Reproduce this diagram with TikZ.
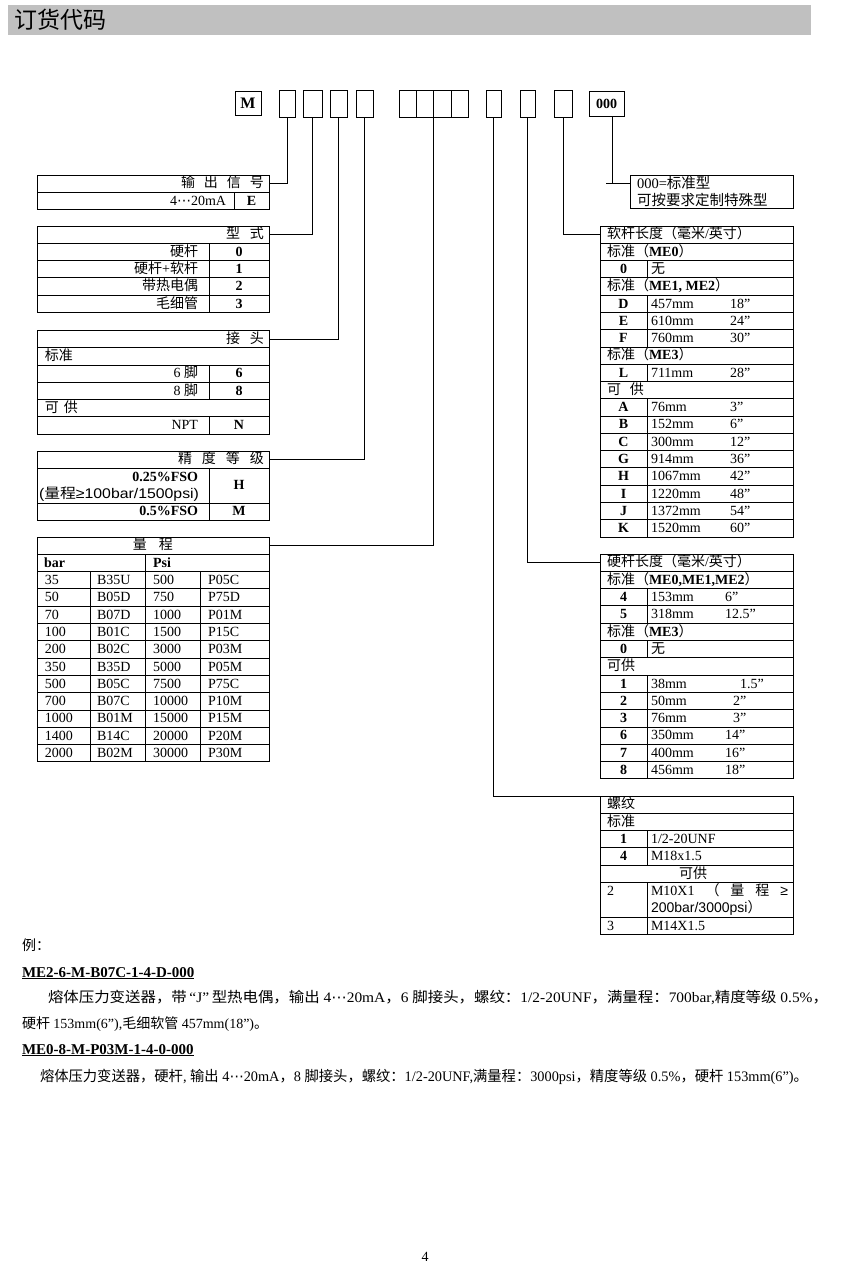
\documentclass[tikz,border=0pt]{standalone}
\usepackage{fontspec}
\usepackage{graphicx}
\setmainfont{Liberation Serif}
\setsansfont{Liberation Sans}
\newfontfamily\cjk{Noto Sans CJK SC}
\newfontfamily\symf{DejaVu Sans}
\definecolor{cc0c0c0}{RGB}{192,192,192}
\newcommand\tbfont{\fontsize{14}{16}\selectfont}

% switch to the CJK family for Chinese characters
\XeTeXinterchartokenstate=1
\chardef\cjkcls=7
\makeatletter
\def\cjkrange#1#2{\count@=#1\relax
  \loop\XeTeXcharclass\count@=\cjkcls\relax
  \ifnum\count@<#2\relax\advance\count@\@ne\repeat}
\cjkrange{"4E00}{"9FFF}
\cjkrange{"3000}{"303F}
\cjkrange{"FF00}{"FF60}
\XeTeXcharclass"201C=0
\XeTeXcharclass"201D=0
\def\latfam{\rmdefault}
\XeTeXinterchartoks 0 \cjkcls = {\edef\latfam{\f@family}\cjk}
\XeTeXinterchartoks 4095 \cjkcls = {\edef\latfam{\f@family}\cjk}
\XeTeXinterchartoks \cjkcls 0 = {\fontfamily{\latfam}\selectfont}
\XeTeXinterchartoks \cjkcls 4095 = {\fontfamily{\latfam}\selectfont}
\makeatother

\begin{document}
\begin{tikzpicture}[x=1pt, y=-1pt, inner sep=0pt, outer sep=0pt, line width=0.9pt,
  txt/.style={font=\tbfont, text height=9.5pt, text depth=1pt},
  codebox/.style={draw, anchor=north west, minimum height=27pt},
  head/.style={draw, anchor=north west, minimum height=17.3pt, font=\tbfont, text height=9.5pt, text depth=1pt}]
  \fill[white] (0,0) rectangle (850,1270);
  \useasboundingbox (0,0) rectangle (850,1270);

  % title bar
  \node[fill=cc0c0c0, anchor=north west, minimum width=803pt, minimum height=30pt, text width=789pt, inner xsep=7pt, align=left, font=\fontsize{23}{26}\selectfont] (title) at (8,5) {订货代码};

  % code boxes
  \node[codebox, minimum width=26pt, minimum height=24pt, font=\bfseries\fontsize{16}{18}\selectfont] (cM) at (235,91) {M};
  \node[codebox, minimum width=16pt] (c1) at (279,90) {};
  \node[codebox, minimum width=19pt] (c2) at (303,90) {};
  \node[codebox, minimum width=17pt] (c3) at (330,90) {};
  \node[codebox, minimum width=17pt] (c4) at (356,90) {};
  \node[codebox, minimum width=69pt] (c5) at (399,90) {};
  \foreach \x in {416,433.5,451} \draw (\x,90) -- (\x,117);
  \node[codebox, minimum width=15pt] (c6) at (486,90) {};
  \node[codebox, minimum width=15pt] (c7) at (520,90) {};
  \node[codebox, minimum width=18pt] (c8) at (554,90) {};
  \node[codebox, minimum width=35pt, minimum height=25pt, font=\bfseries\fontsize{14}{16}\selectfont] (c9) at (589,91) {000};

  % output signal
  \node[head, minimum width=232pt, text width=222pt, inner xsep=5pt, align=right] (sig) at (37,175) {输\hspace{9pt}出\hspace{9pt}信\hspace{9pt}号};
  \draw (37,192.3) rectangle (269,209.6) (234,192.3) -- (234,209.6);
  \node[txt, anchor=east] (sig-a) at (226,201) {4{\symf ⋯}20mA};
  \node[txt, font=\tbfont\bfseries] (sig-b) at (251.5,201) {E};

  % type
  \node[head, minimum width=232pt, text width=222pt, inner xsep=5pt, align=right] (typ) at (37,226) {型\hspace{10pt}式};
  \foreach \k in {1,...,4} \draw (37,{226+17.3*\k}) rectangle (269,{226+17.3*(\k+1)});
  \draw (209,243.3) -- (209,312.5);
  \foreach \lbl/\cd [count=\k] in {硬杆/0,硬杆+软杆/1,带热电偶/2,毛细管/3} {
    \node[txt, anchor=east] (typ-\k) at (198,{226+17.3*\k+8.65}) {\lbl};
    \node[txt, font=\tbfont\bfseries] (typ-c\k) at (239,{226+17.3*\k+8.65}) {\cd};
  }

  % connector
  \node[head, minimum width=232pt, text width=222pt, inner xsep=5pt, align=right] (con) at (37,330.4) {接\hspace{10pt}头};
  \foreach \k in {1,...,5} \draw (37,{330.4+17.3*\k}) rectangle (269,{330.4+17.3*(\k+1)});
  \draw (209,365) -- (209,399.6) (209,416.9) -- (209,434.2);
  \node[txt, anchor=west] (con-1) at (45,356.35) {标准};
  \node[txt, anchor=east] (con-2) at (198,373.65) {6 脚};
  \node[txt, font=\tbfont\bfseries] (con-c2) at (239,373.65) {6};
  \node[txt, anchor=east] (con-3) at (198,390.95) {8 脚};
  \node[txt, font=\tbfont\bfseries] (con-c3) at (239,390.95) {8};
  \node[txt, anchor=west] (con-4) at (45,408.25) {可\hspace{5pt}供};
  \node[txt, anchor=east] (con-5) at (198,425.55) {NPT};
  \node[txt, font=\tbfont\bfseries] (con-c5) at (239,425.55) {N};

  % accuracy
  \node[head, minimum width=232pt, text width=222pt, inner xsep=5pt, align=right] (acc) at (37,451) {精\hspace{10pt}度\hspace{10pt}等\hspace{10pt}级};
  \draw (37,468.3) rectangle (269,503) (37,503) rectangle (269,520.3) (209,468.3) -- (209,520.3);
  \node[txt, anchor=east, font=\tbfont\bfseries] (acc-1) at (198,477.5) {0.25\%FSO};
  \node[txt, anchor=east, font=\tbfont\sffamily] (acc-2) at (199,494.5) {\resizebox{160pt}{\height}{(量程≥100bar/1500psi)}};
  \node[txt, font=\tbfont\bfseries] (acc-c1) at (239,485.6) {H};
  \node[txt, anchor=east, font=\tbfont\bfseries] (acc-3) at (198,511.6) {0.5\%FSO};
  \node[txt, font=\tbfont\bfseries] (acc-c3) at (239,511.6) {M};

  % range
  \node[head, minimum width=232pt, text width=232pt, align=center] (rng) at (37,537) {量\hspace{12pt}程};
  \draw (37,554.3) rectangle (269,571.6) (145,554.3) -- (145,571.6);
  \node[txt, anchor=west, font=\tbfont\bfseries] (rng-bar) at (44,563) {bar};
  \node[txt, anchor=west, font=\tbfont\bfseries] (rng-psi) at (153,563) {Psi};
  \foreach \k in {0,...,10} \draw (37,{571.6+17.3*\k}) rectangle (269,{571.6+17.3*(\k+1)});
  \foreach \x in {90,145,200} \draw (\x,571.6) -- (\x,761.9);
  \foreach \va/\vb/\vc/\vd [count=\k from 0] in {35/B35U/500/P05C,50/B05D/750/P75D,70/B07D/1000/P01M,100/B01C/1500/P15C,200/B02C/3000/P03M,350/B35D/5000/P05M,500/B05C/7500/P75C,700/B07C/10000/P10M,1000/B01M/15000/P15M,1400/B14C/20000/P20M,2000/B02M/30000/P30M} {
    \node[txt, anchor=west] (rng-a\k) at (45,{571.6+17.3*\k+8.65}) {\va};
    \node[txt, anchor=west] (rng-b\k) at (97,{571.6+17.3*\k+8.65}) {\vb};
    \node[txt, anchor=west] (rng-c\k) at (153,{571.6+17.3*\k+8.65}) {\vc};
    \node[txt, anchor=west] (rng-d\k) at (208,{571.6+17.3*\k+8.65}) {\vd};
  }

  % options
  \node[draw, anchor=north west, minimum width=163pt, minimum height=33pt, text width=149pt, inner xsep=7pt, align=left, font=\fontsize{14.5}{16.5}\selectfont] (opt) at (630,175) {000=标准型\\可按要求定制特殊型};

  % soft tube length
  \node[head, minimum width=193pt, text width=179pt, inner xsep=7pt, align=left] (sof) at (600,226) {软杆长度（毫米/英寸）};
  \foreach \k in {1,...,17} \draw (600,{226+17.28*\k}) rectangle (793,{226+17.28*(\k+1)});
  \foreach \a/\b in {2/3,4/7,8/9,10/18} \draw (647,{226+17.28*\a}) -- (647,{226+17.28*\b});
  \node[txt, anchor=west] (sof-s1) at (607,251.92) {标准（\textbf{ME0}）};
  \node[txt, anchor=west] (sof-s3) at (607,286.48) {标准（\textbf{ME1, ME2}）};
  \node[txt, anchor=west] (sof-s7) at (607,355.6) {标准（\textbf{ME3}）};
  \node[txt, anchor=west] (sof-s9) at (607,390.16) {可\hspace{9pt}供};
  \node[txt, font=\tbfont\bfseries] (sof-c2) at (623.5,269.2) {0};
  \node[txt, anchor=west] (sof-m2) at (651,269.2) {无};
  \foreach \k/\cd/\mm/\inch in {4/D/457mm/18”,5/E/610mm/24”,6/F/760mm/30”,8/L/711mm/28”,10/A/76mm/3”,11/B/152mm/6”,12/C/300mm/12”,13/G/914mm/36”,14/H/1067mm/42”,15/I/1220mm/48”,16/J/1372mm/54”,17/K/1520mm/60”} {
    \node[txt, font=\tbfont\bfseries] (sof-c\k) at (623.5,{226+17.28*\k+8.64}) {\cd};
    \node[txt, anchor=west] (sof-m\k) at (651,{226+17.28*\k+8.64}) {\mm};
    \node[txt, anchor=west] (sof-i\k) at (730,{226+17.28*\k+8.64}) {\inch};
  }

  % rigid stem length
  \node[head, minimum width=193pt, text width=179pt, inner xsep=7pt, align=left] (rig) at (600,554) {硬杆长度（毫米/英寸）};
  \foreach \k in {1,...,12} \draw (600,{554+17.3*\k}) rectangle (793,{554+17.3*(\k+1)});
  \foreach \a/\b in {2/4,5/6,7/13} \draw (647,{554+17.3*\a}) -- (647,{554+17.3*\b});
  \node[txt, anchor=west] (rig-s1) at (607,579.95) {标准（\textbf{ME0,ME1,ME2}）};
  \node[txt, anchor=west] (rig-s4) at (607,631.85) {标准（\textbf{ME3}）};
  \node[txt, anchor=west] (rig-s6) at (607,666.45) {可供};
  \node[txt, font=\tbfont\bfseries] (rig-c5) at (623.5,649.15) {0};
  \node[txt, anchor=west] (rig-m5) at (651,649.15) {无};
  \foreach \k/\cd/\mm/\inch/\ix in {2/4/153mm/6”/725,3/5/318mm/12.5”/725,7/1/38mm/1.5”/740,8/2/50mm/2”/733,9/3/76mm/3”/733,10/6/350mm/14”/725,11/7/400mm/16”/725,12/8/456mm/18”/725} {
    \node[txt, font=\tbfont\bfseries] (rig-c\k) at (623.5,{554+17.3*\k+8.65}) {\cd};
    \node[txt, anchor=west] (rig-m\k) at (651,{554+17.3*\k+8.65}) {\mm};
    \node[txt, anchor=west] (rig-i\k) at (\ix,{554+17.3*\k+8.65}) {\inch};
  }

  % thread
  \node[head, minimum width=193pt, text width=179pt, inner xsep=7pt, align=left] (thr) at (600,796) {螺纹};
  \draw (600,813.3) rectangle (793,830.6) (600,830.6) rectangle (793,847.9) (600,847.9) rectangle (793,865.2)
        (600,865.2) rectangle (793,882.5) (600,882.5) rectangle (793,917.1) (600,917.1) rectangle (793,934.4);
  \draw (647,830.6) -- (647,865.2) (647,882.5) -- (647,934.4);
  \node[txt, anchor=west] (thr-s1) at (607,821.95) {标准};
  \node[txt, font=\tbfont\bfseries] (thr-c2) at (623.5,839.25) {1};
  \node[txt, anchor=west] (thr-m2) at (651,839.25) {1/2-20UNF};
  \node[txt, font=\tbfont\bfseries] (thr-c3) at (623.5,856.55) {4};
  \node[txt, anchor=west] (thr-m3) at (651,856.55) {M18x1.5};
  \node[txt] (thr-s4) at (693,873.85) {可供};
  \node[txt, anchor=west] (thr-c5) at (607,891.2) {2};
  \node[txt, anchor=west] (thr-m5) at (651,891.2) {\makebox[137pt][s]{M10X1 （ 量 程 {\sffamily ≥}}};
  \node[txt, anchor=west, font=\tbfont\sffamily] (thr-n5) at (651,908.5) {200bar/3000psi）};
  \node[txt, anchor=west] (thr-c6) at (607,925.75) {3};
  \node[txt, anchor=west] (thr-m6) at (651,925.75) {M14X1.5};

  % connectors
  \draw (c1.south) |- (sig.east);
  \draw (c2.south) |- (typ.east);
  \draw (c3.south) |- (con.east);
  \draw (c4.south) |- (acc.east);
  \draw (c5.south) |- (rng.east);
  \draw (c6.south) |- (thr.north west);
  \draw (c7.south) |- (rig.west);
  \draw (c8.south) |- (sof.west);
  \coordinate (optstub) at (606,183);
  \draw ([xshift=6pt]c9.south) |- (optstub);
  \draw (optstub) -- (optstub -| opt.west);

  % examples
  \node[anchor=base west, font=\fontsize{14}{16}\selectfont] (ex) at (22,950) {例：};
  \node[anchor=base west, font=\bfseries\fontsize{15}{17}\selectfont] (ex1) at (22,977) {\underline{ME2-6-M-B07C-1-4-D-000}};
  \node[anchor=base west, font=\fontsize{14.5}{17}\selectfont] (ex1-a) at (48,1002) {\resizebox{780pt}{\height}{熔体压力变送器，带\,“J”\,型热电偶，输出 4{\symf ⋯}20mA，6 脚接头，螺纹：1/2-20UNF，满量程：700bar,精度等级 0.5\%，}};
  \node[anchor=base west, font=\fontsize{14}{17}\selectfont] (ex1-b) at (22,1028) {硬杆 153mm(6”),毛细软管 457mm(18”)。};
  \node[anchor=base west, font=\bfseries\fontsize{15}{17}\selectfont] (ex2) at (22,1054) {\underline{ME0-8-M-P03M-1-4-0-000}};
  \node[anchor=base west, font=\fontsize{14.5}{17}\selectfont] (ex2-a) at (40,1081) {\resizebox{768pt}{\height}{熔体压力变送器，硬杆, 输出 4{\symf ⋯}20mA，8 脚接头，螺纹：1/2-20UNF,满量程：3000psi，精度等级 0.5\%，硬杆 153mm(6”)。}};

  % page number
  \node[txt] (pg) at (425,1257) {4};
\end{tikzpicture}
\end{document}
